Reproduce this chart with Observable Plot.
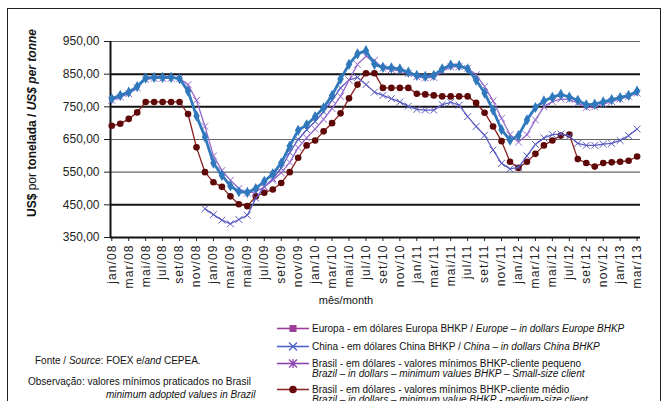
<!DOCTYPE html>
<html>
<head>
<meta charset="utf-8">
<script src="https://cdn.jsdelivr.net/npm/d3@7"></script>
<script src="https://cdn.jsdelivr.net/npm/@observablehq/plot@0.6"></script>
<style>
  body { margin: 0; background: #fff; }
  #wrap { position: relative; width: 665px; height: 401px; overflow: hidden; background: #fff; font-family: "Liberation Sans", Arial, sans-serif; color: #111; }
  #border { position: absolute; left: 7px; top: 8px; width: 652px; height: 420px; border: 1.5px solid #222; }
  #chart { position: absolute; left: 0; top: 0; }
  #ytitle { position: absolute; left: 32px; top: 123px; transform: translate(-50%, -50%) rotate(-90deg); white-space: nowrap; font-size: 12px; font-weight: bold; color: #111; }
  #xtitle { position: absolute; left: 346px; top: 294px; transform: translateX(-50%); font-size: 11px; color: #111; white-space: nowrap; }
  .note { position: absolute; font-size: 10px; white-space: nowrap; color: #111; }
  .leg { position: absolute; left: 276px; display: flex; align-items: flex-start; }
  .leg svg { flex: none; }
  .lt { margin-left: 2px; font-size: 10px; line-height: 9.5px; white-space: nowrap; color: #111; }
  svg.plot text { font-family: "Liberation Sans", Arial, sans-serif; }
</style>
</head>
<body>
<div id="wrap">
  <div id="border"></div>
  <div id="chart"></div>
  <div id="ytitle">US$ <span style="font-weight:normal">por</span> tonelada / <i>US$ per tonne</i></div>
  <div id="xtitle">mês/month</div>
  <div class="note" style="left:35px; top:355px;">Fonte / <i>Source</i>: FOEX e/<i>and</i> CEPEA.</div>
  <div class="note" style="left:28px; top:376px;">Observação: valores mínimos praticados no Brasil</div>
  <div class="note" style="left:106px; top:389px;"><i>minimum adopted values in Brazil</i></div>
  <div id="legend"></div>
</div>
<script>
// ---- categories ----
const monthNames = ["jan","fev","mar","abr","mai","jun","jul","ago","set","out","nov","dez"];
const years = ["08","09","10","11","12","13"];
const months = [];
years.forEach((y, yi) => monthNames.forEach((m, mi) => { if (!(yi === 5 && mi > 2)) months.push(m + "/" + y); }));

// ---- y ticks ----
const yTicks = [350, 450, 550, 650, 750, 850, 950];
const yTickLabels = ["350,00","450,00","550,00","650,00","750,00","850,00","950,00"];

// ---- series values (US$ per tonne), jan/08 .. mar/13 ----
const europa = [775,785,795,812,838,840,840,840,836,798,722,658,578,540,508,490,488,500,522,545,578,630,678,695,720,747,785,835,880,912,922,880,871,869,866,856,846,843,846,866,878,876,866,832,792,740,680,648,662,710,748,768,779,788,780,770,756,758,765,772,778,785,798];
const china = [null,null,null,null,null,null,null,null,null,null,null,438,420,403,392,405,418,470,505,530,562,610,650,680,705,735,770,808,832,840,818,795,785,775,765,752,742,740,740,757,764,755,720,690,663,618,577,560,565,600,635,655,665,667,660,638,632,632,636,638,647,662,682];
const brasilPequeno = [770,780,790,808,834,837,837,837,837,818,770,690,600,555,525,500,486,490,505,525,548,580,625,655,682,712,745,782,832,880,905,892,868,864,860,852,842,838,840,860,872,873,868,848,812,768,715,665,642,665,710,750,766,774,772,762,748,750,758,766,774,782,792];
const brasilMedio = [692,698,713,733,765,765,765,765,765,728,626,550,519,505,476,452,446,476,487,497,517,550,594,632,647,675,700,730,776,818,853,853,808,808,808,808,790,788,785,782,782,782,782,762,732,690,645,582,563,582,606,632,647,662,665,590,578,567,578,580,582,585,598];

// ---- legend texts ----
const legendPt = [
  "Europa - em dólares Europa BHKP / ",
  "China - em dólares China BHKP / ",
  "Brasil - em dólares - valores mínimos BHKP-cliente pequeno",
  "Brasil - em dólares - valores mínimos BHKP-cliente médio"
];
const legendEn = [
  "Europe – in dollars Europe BHKP",
  "China – in dollars China BHKP",
  "Brazil – in dollars – minimum values BHKP – Small-size client",
  "Brazil – in dollars – minimum value BHKP - medium-size client"
];

// ---- styles ----
const heavyGrid = [450, 750, 850];
const lightGrid = [550, 650, 950];
const tickIdx = months.map((_, i) => i).filter(i => i % 2 === 0);

function seriesMarks(vals, o) {
  const idx = vals.map((v, i) => i).filter(i => vals[i] != null);
  const marks = [Plot.line(idx, {x: i => i, y: i => vals[i], stroke: o.stroke, strokeWidth: o.sw, curve: "linear"})];
  if (o.symbol === "times" || o.symbol === "asterisk") {
    marks.push(Plot.dot(idx, {x: i => i, y: i => vals[i], symbol: o.symbol, r: o.r, stroke: o.mstroke, strokeWidth: 1, fill: "none"}));
  } else {
    marks.push(Plot.dot(idx, {x: i => i, y: i => vals[i], symbol: o.symbol, r: o.r, fill: o.mfill, stroke: "none"}));
  }
  return marks;
}

const chart = Plot.plot({
  width: 665,
  height: 318,
  marginLeft: 110,
  marginRight: 25,
  marginTop: 41,
  marginBottom: 81,
  x: {type: "linear", domain: [-0.15, 62.4]},
  y: {domain: [350, 950]},
  style: {background: "transparent", fontFamily: "Liberation Sans, Arial, sans-serif", overflow: "visible"},
  marks: [
    Plot.ruleY(lightGrid, {stroke: "#666", strokeWidth: 1.1}),
    Plot.ruleY(heavyGrid, {stroke: "#111", strokeWidth: 2}),
    Plot.axisY({ticks: yTicks, tickFormat: d => yTickLabels[yTicks.indexOf(d)], tickSize: 6, tickPadding: 5, fontSize: 12, color: "#222", label: null}),
    Plot.axisX({ticks: tickIdx, tickFormat: i => months[i], tickRotate: -90, tickSize: 4, tickPadding: 3, fontSize: 12, color: "#222", label: null}),
    Plot.ruleY([350], {stroke: "#111", strokeWidth: 2}),
    Plot.ruleX([-0.15], {y1: 350, y2: 950, stroke: "#111", strokeWidth: 2}),
    ...seriesMarks(brasilMedio, {stroke: "#8b1f1f", sw: 1.3, symbol: "circle", r: 3.3, mfill: "#5e0808"}),
    ...seriesMarks(china, {stroke: "#5a5cc2", sw: 1.3, symbol: "times", r: 3.2, mstroke: "#5a5cc2"}),
    ...seriesMarks(brasilPequeno, {stroke: "#9468cc", sw: 1.3, symbol: "times", r: 3.2, mstroke: "#9468cc"}),
    ...seriesMarks(europa, {stroke: "#3079bd", sw: 2.8, symbol: "diamond", r: 3.4, mfill: "#2f78bc"})
  ]
});
chart.querySelectorAll('[aria-label="x-axis tick label"] text').forEach(t => t.setAttribute("letter-spacing", "1.1"));
document.getElementById("chart").appendChild(chart);

// ---- legend (HTML) ----
const legendStyle = [
  {color: "#9b3d9b", marker: "square", top: 323},
  {color: "#4f63c9", marker: "times", top: 341},
  {color: "#8a44b0", marker: "asterisk", top: 358},
  {color: "#8b2a2a", marker: "circle", top: 384, fill: "#6b0a0a"}
];
const legend = document.getElementById("legend");
legendPt.forEach((pt, k) => {
  const s = legendStyle[k];
  const cx = 17, cy = 5.5;
  let mk = "";
  if (s.marker === "square") mk = `<rect x="${cx-3.5}" y="${cy-3.5}" width="7" height="7" fill="${s.color}"/>`;
  if (s.marker === "times") mk = `<path d="M${cx-4},${cy-4}L${cx+4},${cy+4}M${cx-4},${cy+4}L${cx+4},${cy-4}" stroke="${s.color}" stroke-width="1.3"/>`;
  if (s.marker === "asterisk") mk = `<path d="M${cx-4},${cy-4}L${cx+4},${cy+4}M${cx-4},${cy+4}L${cx+4},${cy-4}M${cx},${cy-4.5}L${cx},${cy+4.5}" stroke="${s.color}" stroke-width="1.3"/>`;
  if (s.marker === "circle") mk = `<circle cx="${cx}" cy="${cy}" r="3.8" fill="${s.fill}"/>`;
  const sw = `<svg width="34" height="11"><line x1="1" x2="33" y1="${cy}" y2="${cy}" stroke="${s.color}" stroke-width="1.6"/>${mk}</svg>`;
  const text = k < 2 ? `${pt}<i>${legendEn[k]}</i>` : `${pt}<br><i>${legendEn[k]}</i>`;
  const d = document.createElement("div");
  d.className = "leg";
  d.style.top = s.top + "px";
  d.innerHTML = sw + `<div class="lt" style="padding-top:1px">${text}</div>`;
  legend.appendChild(d);
});
</script>
</body>
</html>
